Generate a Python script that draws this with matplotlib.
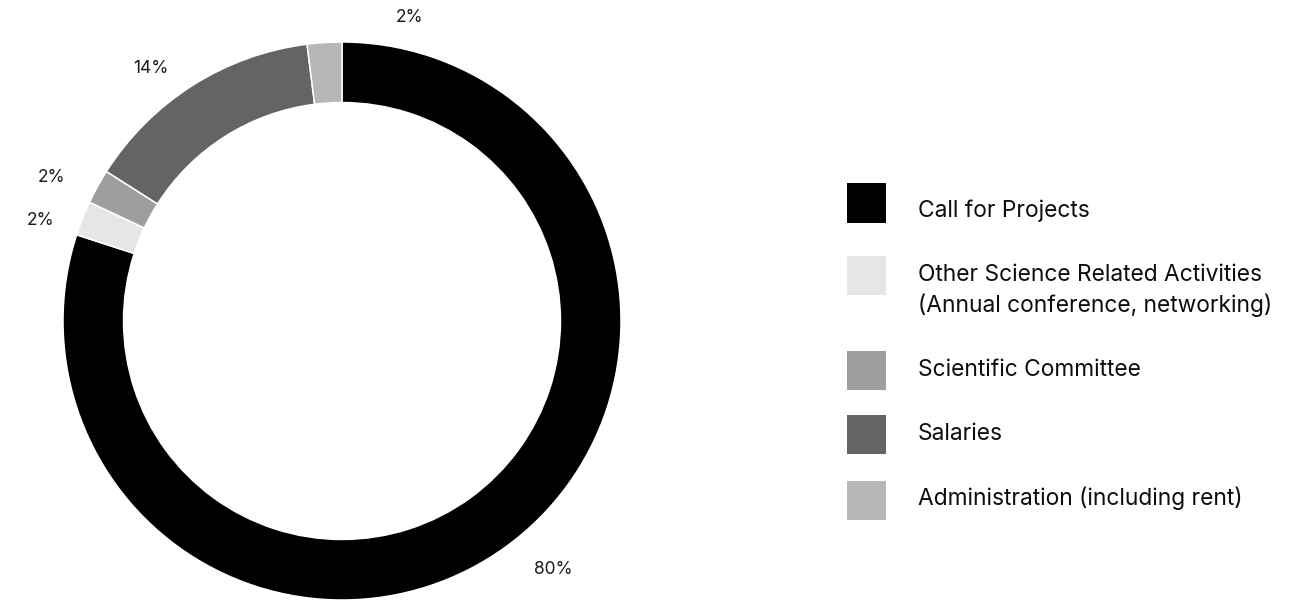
import numpy as np
import matplotlib.pyplot as plt
from matplotlib.patches import Rectangle

plt.rcParams['font.family'] = ['Inter', 'DejaVu Sans']

# budget split, clockwise from the top
categories = [
    "Call for Projects",
    "Other Science Related Activities\n(Annual conference, networking)",
    "Scientific Committee",
    "Salaries",
    "Administration (including rent)",
]
shares = [80, 2, 2, 14, 2]
pct_labels = ["80%", "2%", "2%", "14%", "2%"]
colors = ["#000000", "#e6e6e6", "#9e9e9e", "#646464", "#b7b7b7"]

# where the percentage labels sit (degrees off the wedge middle, radius)
label_nudge = [4.3, 3.2, 2.5, 4.8, -16.2]
label_radius = [1.17, 1.14, 1.163, 1.134, 1.113]

W, H = 1309, 601
fig = plt.figure(figsize=(W / 100, H / 100), dpi=100)

# donut
cx, cy, r = 342, 321, 279
ax = fig.add_axes([(cx - r) / W, (H - cy - r) / H, 2 * r / W, 2 * r / H])
wedges, _ = ax.pie(shares, colors=colors, startangle=90, counterclock=False,
                   radius=1, wedgeprops=dict(width=0.217, edgecolor='white', linewidth=1.1))
ax.set_xlim(-1, 1)
ax.set_ylim(-1, 1)
ax.set_aspect('equal')
ax.axis('off')

for w, lab, dn, rr in zip(wedges, pct_labels, label_nudge, label_radius):
    mid = np.deg2rad((w.theta1 + w.theta2) / 2 + dn)
    ax.text(rr * np.cos(mid), rr * np.sin(mid), lab, ha='center', va='center',
            fontsize=12.5, color='#1a1a1a', clip_on=False)

# legend, drawn by hand
sw_x, sw_size, txt_x = 847, 39, 918
sw_centers = [203, 275.5, 370.5, 434.5, 500.5]
txt_shift = [-4.5, 3.5, 3, 3.5, 4.5]
line_gap = 31
for name, col, yc, sh in zip(categories, colors, sw_centers, txt_shift):
    fig.patches.append(Rectangle((sw_x / W, (H - yc - sw_size / 2) / H), sw_size / W, sw_size / H,
                                 transform=fig.transFigure, color=col, linewidth=0))
    base = yc - sh + 9
    for k, line in enumerate(name.split("\n")):
        fig.text(txt_x / W, (H - base - k * line_gap) / H, line, ha='left', va='baseline',
                 fontsize=16.4, color='#0d0d0d')

fig.savefig('out.png', dpi=100, facecolor='white')
